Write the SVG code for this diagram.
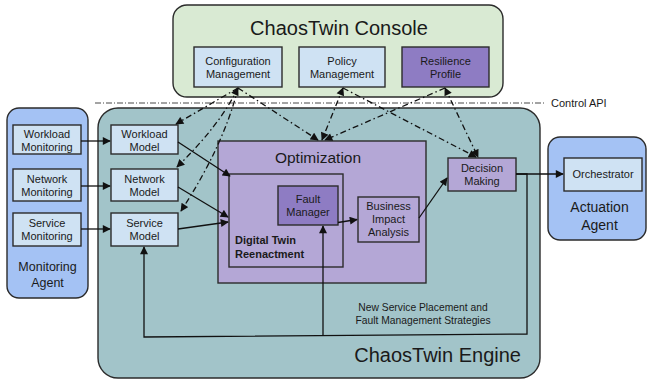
<svg xmlns="http://www.w3.org/2000/svg" width="647" height="383" viewBox="0 0 647 383">
  <defs>
    <style>
      text { font-family: "Liberation Sans", Arial, sans-serif; fill: #1a1a1a; }
      .lbl { font-size: 11px; text-anchor: middle; }
      .title { font-size: 20px; }
      .box { stroke: #2b2b2b; stroke-width: 1.4; }
      .blue { fill: #cfe2f3; }
      .lav { fill: #b4a7d6; }
      .vio { fill: #8e7cc3; }
      .flow { fill: none; stroke: #111; stroke-width: 1.3; }
      .ctl { fill: none; stroke: #111; stroke-width: 1.3; stroke-dasharray: 6 3 1.5 3; }
    </style>
    <marker id="arr" viewBox="0 0 10 10" refX="9" refY="5" markerWidth="9" markerHeight="8" markerUnits="userSpaceOnUse" orient="auto-start-reverse">
      <path d="M0,0 L10,5 L0,10 z" fill="#111"/>
    </marker>
  </defs>

  <!-- Console -->
  <g id="console">
    <rect x="173" y="5" width="330" height="92" rx="14" fill="#d9ead3" class="box"/>
    <text x="339" y="35" class="title" text-anchor="middle">ChaosTwin Console</text>
  </g>
  <g id="config-mgmt">
    <rect x="194" y="47" width="88" height="40" class="box blue"/>
    <text x="238" y="64.5" class="lbl">Configuration</text>
    <text x="238" y="77.5" class="lbl">Management</text>
  </g>
  <g id="policy-mgmt">
    <rect x="299" y="47" width="86" height="40" class="box blue"/>
    <text x="342" y="64.5" class="lbl">Policy</text>
    <text x="342" y="77.5" class="lbl">Management</text>
  </g>
  <g id="resilience-profile">
    <rect x="402" y="47" width="87" height="40" class="box vio"/>
    <text x="445.5" y="64.5" class="lbl">Resilience</text>
    <text x="445.5" y="77.5" class="lbl">Profile</text>
  </g>

  <!-- Control API boundary -->
  <g id="control-api">
    <line x1="95" y1="103" x2="546" y2="103" stroke="#333" stroke-width="0.9" stroke-dasharray="6 2 1 2"/>
    <text x="551" y="107" font-size="11">Control API</text>
  </g>

  <!-- Monitoring agent -->
  <g id="monitoring-agent">
    <rect x="7" y="108" width="81" height="190" rx="12" fill="#a4c2f4" class="box"/>
    <text x="47.5" y="271" font-size="12.5" text-anchor="middle">Monitoring</text>
    <text x="47.5" y="287" font-size="12.5" text-anchor="middle">Agent</text>
  </g>
  <g id="workload-monitoring">
    <rect x="13" y="125" width="68" height="29" class="box blue"/>
    <text x="47" y="138" class="lbl">Workload</text>
    <text x="47" y="151" class="lbl">Monitoring</text>
  </g>
  <g id="network-monitoring">
    <rect x="13" y="169" width="68" height="32" class="box blue"/>
    <text x="47" y="183" class="lbl">Network</text>
    <text x="47" y="196" class="lbl">Monitoring</text>
  </g>
  <g id="service-monitoring">
    <rect x="13" y="213" width="68" height="33" class="box blue"/>
    <text x="47" y="227" class="lbl">Service</text>
    <text x="47" y="240" class="lbl">Monitoring</text>
  </g>

  <!-- Engine -->
  <g id="engine">
    <rect x="98" y="108" width="442" height="270" rx="20" fill="#a2c4c9" class="box"/>
    <text x="521" y="362" class="title" text-anchor="end">ChaosTwin Engine</text>
  </g>
  <g id="workload-model">
    <rect x="111" y="125" width="67" height="29" class="box blue"/>
    <text x="144.5" y="138" class="lbl">Workload</text>
    <text x="144.5" y="151" class="lbl">Model</text>
  </g>
  <g id="network-model">
    <rect x="111" y="169" width="67" height="32" class="box blue"/>
    <text x="144.5" y="183" class="lbl">Network</text>
    <text x="144.5" y="196" class="lbl">Model</text>
  </g>
  <g id="service-model">
    <rect x="111" y="213" width="67" height="33" class="box blue"/>
    <text x="144.5" y="227" class="lbl">Service</text>
    <text x="144.5" y="240" class="lbl">Model</text>
  </g>

  <g id="optimization">
    <rect x="218" y="141" width="208" height="142" class="box lav"/>
    <text x="318" y="163" font-size="15.5" text-anchor="middle">Optimization</text>
  </g>
  <g id="digital-twin">
    <rect x="229" y="174" width="114" height="93" class="box lav"/>
    <text x="235" y="244" font-size="11" font-weight="bold">Digital Twin</text>
    <text x="235" y="257.5" font-size="11" font-weight="bold">Reenactment</text>
  </g>
  <g id="fault-manager">
    <rect x="278" y="186" width="60" height="39" class="box vio"/>
    <text x="308" y="203" class="lbl">Fault</text>
    <text x="308" y="216" class="lbl">Manager</text>
  </g>
  <g id="business-impact">
    <rect x="358" y="197" width="61" height="45" class="box lav"/>
    <text x="388.5" y="210" class="lbl">Business</text>
    <text x="388.5" y="223" class="lbl">Impact</text>
    <text x="388.5" y="235.5" class="lbl">Analysis</text>
  </g>
  <g id="decision-making">
    <rect x="448" y="158" width="68" height="33" class="box lav"/>
    <text x="482" y="172" class="lbl">Decision</text>
    <text x="482" y="184.5" class="lbl">Making</text>
  </g>
  <g id="strategies-note">
    <text x="423" y="311" font-size="10.3" text-anchor="middle">New Service Placement and</text>
    <text x="423" y="324" font-size="10.3" text-anchor="middle">Fault Management Strategies</text>
  </g>

  <!-- Actuation agent -->
  <g id="actuation-agent">
    <rect x="548" y="137" width="98" height="103" rx="12" fill="#a4c2f4" class="box"/>
    <text x="599.5" y="212" font-size="14" text-anchor="middle">Actuation</text>
    <text x="599.5" y="230" font-size="14" text-anchor="middle">Agent</text>
  </g>
  <g id="orchestrator">
    <rect x="564" y="158" width="78" height="33" class="box blue"/>
    <text x="603" y="178" class="lbl">Orchestrator</text>
  </g>

  <!-- Connectors -->
  <g id="connectors">
    <!-- data flow -->
    <line x1="81" y1="141" x2="110" y2="141" class="flow" marker-end="url(#arr)"/>
    <line x1="81" y1="186" x2="110" y2="186" class="flow" marker-end="url(#arr)"/>
    <line x1="81" y1="229" x2="110" y2="229" class="flow" marker-end="url(#arr)"/>
    <line x1="178" y1="142" x2="230" y2="176" class="flow" marker-end="url(#arr)"/>
    <line x1="178" y1="187" x2="228" y2="217" class="flow" marker-end="url(#arr)"/>
    <line x1="178" y1="229" x2="228" y2="222" class="flow" marker-end="url(#arr)"/>
    <line x1="338" y1="222.5" x2="357" y2="219.5" class="flow" marker-end="url(#arr)"/>
    <line x1="419" y1="218" x2="447" y2="178" class="flow" marker-end="url(#arr)"/>
    <line x1="516" y1="174" x2="563" y2="174" class="flow" marker-end="url(#arr)"/>
    <!-- feedback loop -->
    <polyline points="516,174 527,174 527,334 144,337 144,247" class="flow" marker-end="url(#arr)"/>
    <line x1="323" y1="336" x2="323" y2="226" class="flow" marker-end="url(#arr)"/>

    <!-- control API links (both directions; one head drawn at each console box) -->
    <path d="M238 88 L176 124" class="ctl" marker-end="url(#arr)"/>
    <path d="M238 88 Q220 125 177 167" class="ctl" marker-start="url(#arr)" marker-end="url(#arr)"/>
    <path d="M238 88 Q224 145 181 211" class="ctl" marker-end="url(#arr)"/>
    <path d="M238 88 L318 140" class="ctl" marker-end="url(#arr)"/>
    <path d="M343 88 L322 140" class="ctl" marker-start="url(#arr)" marker-end="url(#arr)"/>
    <path d="M343 88 L476 157" class="ctl" marker-end="url(#arr)"/>
    <path d="M445 88 L325 140" class="ctl" marker-end="url(#arr)"/>
    <path d="M445 88 L478 157" class="ctl" marker-start="url(#arr)" marker-end="url(#arr)"/>
  </g>
</svg>
